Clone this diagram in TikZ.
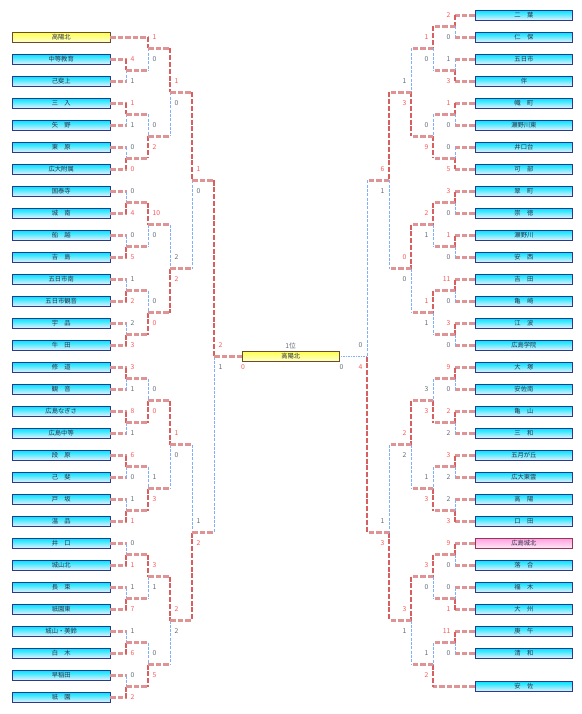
\documentclass[tikz,border=0pt]{standalone}
\usepackage{fontspec}
\newfontfamily\jp{Noto Sans CJK JP}

\definecolor{boxline}{RGB}{45,55,140}
\definecolor{boxtop}{RGB}{0,228,255}
\definecolor{boxbot}{RGB}{235,242,255}
\definecolor{winline}{RGB}{215,95,95}
\definecolor{feedline}{RGB}{222,148,148}
\definecolor{loseline}{RGB}{130,175,250}
\definecolor{winscore}{RGB}{250,90,90}
\definecolor{losescore}{RGB}{100,110,125}

\tikzset{
  team/.style={draw=boxline, line width=0.7pt, top color=boxtop, bottom color=boxbot,
    minimum width=97.5pt, minimum height=10pt, inner sep=0pt,
    text={rgb,255:red,40;green,50;blue,70}, font=\jp\fontsize{6.3}{6.3}\selectfont},
  champ/.style={team, draw={rgb,255:red,110;green,75;blue,40},
    top color={rgb,255:red,255;green,255;blue,80}, bottom color={rgb,255:red,255;green,255;blue,215}},
  seedbox/.style={team, draw={rgb,255:red,150;green,55;blue,90},
    top color={rgb,255:red,255;green,160;blue,225}, bottom color={rgb,255:red,255;green,235;blue,248}},
  feed/.style={draw=feedline, line width=2.2pt, dash pattern=on 5.5pt off 2pt},
  wv/.style={draw=winline, line width=1.4pt, dash pattern=on 5pt off 1.8pt},
  lv/.style={draw=loseline, line width=0.8pt, dash pattern=on 3pt off 1.3pt},
  ws/.style={text=winscore, inner sep=0pt, font=\jp\fontsize{6.8}{6.8}\selectfont},
  ls/.style={text=losescore, inner sep=0pt, font=\jp\fontsize{6.8}{6.8}\selectfont},
}

% 試合: 名前, x, 上y, 下y, 出口y, 上スコア, 下スコア, 上(w/l), 下(w/l)
\newcommand{\boutL}[9]{%
  \draw[#8v] (#2,#3) -- (#2,#5);
  \draw[#9v] (#2,#5) -- (#2,#4);
  \draw[feed] (#2,#5) -- ++(22,0);
  \node[#8s,anchor=west] (#1t) at (#2+4.5,#5-11) {#6};
  \node[#9s,anchor=west] (#1b) at (#2+4.5,#5+11) {#7};}
\newcommand{\boutR}[9]{%
  \draw[#8v] (#2,#3) -- (#2,#5);
  \draw[#9v] (#2,#5) -- (#2,#4);
  \draw[feed] (#2,#5) -- ++(-22,0);
  \node[#8s,anchor=east] (#1t) at (#2-4.5,#5-11) {#6};
  \node[#9s,anchor=east] (#1b) at (#2-4.5,#5+11) {#7};}

\begin{document}
\begin{tikzpicture}[x=1pt,y=-1pt]
  \useasboundingbox (0,0) rectangle (581,714);

  % 左ブロック
  \node[champ] (L1) at (61.2,37.5) {高陽北};
  \node[team] (L2) at (61.2,59.5) {中等教育};
  \node[team] (L3) at (61.2,81.5) {己斐上};
  \node[team] (L4) at (61.2,103.5) {三　入};
  \node[team] (L5) at (61.2,125.5) {矢　野};
  \node[team] (L6) at (61.2,147.5) {東　原};
  \node[team] (L7) at (61.2,169.5) {広大附属};
  \node[team] (L8) at (61.2,191.5) {国泰寺};
  \node[team] (L9) at (61.2,213.5) {城　南};
  \node[team] (L10) at (61.2,235.5) {船　越};
  \node[team] (L11) at (61.2,257.5) {吉　島};
  \node[team] (L12) at (61.2,279.5) {五日市南};
  \node[team] (L13) at (61.2,301.5) {五日市観音};
  \node[team] (L14) at (61.2,323.5) {宇　品};
  \node[team] (L15) at (61.2,345.5) {牛　田};
  \node[team] (L16) at (61.2,367.5) {修　道};
  \node[team] (L17) at (61.2,389.5) {観　音};
  \node[team] (L18) at (61.2,411.5) {広島なぎさ};
  \node[team] (L19) at (61.2,433.5) {広島中等};
  \node[team] (L20) at (61.2,455.5) {段　原};
  \node[team] (L21) at (61.2,477.5) {己　斐};
  \node[team] (L22) at (61.2,499.5) {戸　坂};
  \node[team] (L23) at (61.2,521.5) {温　品};
  \node[team] (L24) at (61.2,543.5) {井　口};
  \node[team] (L25) at (61.2,565.5) {城山北};
  \node[team] (L26) at (61.2,587.5) {長　束};
  \node[team] (L27) at (61.2,609.5) {祇園東};
  \node[team] (L28) at (61.2,631.5) {城山・美鈴};
  \node[team] (L29) at (61.2,653.5) {白　木};
  \node[team] (L30) at (61.2,675.5) {早稲田};
  \node[team] (L31) at (61.2,697.5) {祇　園};

  % 右ブロック
  \node[team] (R1) at (523.9,15.5) {二　葉};
  \node[team] (R2) at (523.9,37.5) {仁　保};
  \node[team] (R3) at (523.9,59.5) {五日市};
  \node[team] (R4) at (523.9,81.5) {伴};
  \node[team] (R5) at (523.9,103.5) {幟　町};
  \node[team] (R6) at (523.9,125.5) {瀬野川東};
  \node[team] (R7) at (523.9,147.5) {井口台};
  \node[team] (R8) at (523.9,169.5) {可　部};
  \node[team] (R9) at (523.9,191.5) {翠　町};
  \node[team] (R10) at (523.9,213.5) {崇　徳};
  \node[team] (R11) at (523.9,235.5) {瀬野川};
  \node[team] (R12) at (523.9,257.5) {安　西};
  \node[team] (R13) at (523.9,279.5) {吉　田};
  \node[team] (R14) at (523.9,301.5) {亀　崎};
  \node[team] (R15) at (523.9,323.5) {江　波};
  \node[team] (R16) at (523.9,345.5) {広島学院};
  \node[team] (R17) at (523.9,367.5) {大　塚};
  \node[team] (R18) at (523.9,389.5) {安佐南};
  \node[team] (R19) at (523.9,411.5) {亀　山};
  \node[team] (R20) at (523.9,433.5) {三　和};
  \node[team] (R21) at (523.9,455.5) {五月が丘};
  \node[team] (R22) at (523.9,477.5) {広大東雲};
  \node[team] (R23) at (523.9,499.5) {高　陽};
  \node[team] (R24) at (523.9,521.5) {口　田};
  \node[seedbox] (R25) at (523.9,543.5) {広島城北};
  \node[team] (R26) at (523.9,565.5) {落　合};
  \node[team] (R27) at (523.9,587.5) {福　木};
  \node[team] (R28) at (523.9,609.5) {大　州};
  \node[team] (R29) at (523.9,631.5) {庚　午};
  \node[team] (R30) at (523.9,653.5) {清　和};
  \node[team] (R31) at (523.9,686.5) {安　佐};

  % チームからの線
  \foreach \i in {2,...,31} \draw[feed] (L\i.east) -- ++(16.3,0);
  \draw[feed] (L1.east) -- ++(38.3,0);
  \foreach \i in {1,...,30} \draw[feed] (R\i.west) -- ++(-20.2,0);
  \draw[feed] (R31.west) -- ++(-42.2,0);

  % 左 1回戦
  \boutL{la1}{126}{59.5}{81.5}{70.5}{4}{1}{w}{l}
  \boutL{la2}{126}{103.5}{125.5}{114.5}{1}{1}{w}{l}
  \boutL{la3}{126}{147.5}{169.5}{158.5}{0}{0}{l}{w}
  \boutL{la4}{126}{191.5}{213.5}{202.5}{0}{4}{l}{w}
  \boutL{la5}{126}{235.5}{257.5}{246.5}{0}{5}{l}{w}
  \boutL{la6}{126}{279.5}{301.5}{290.5}{1}{2}{l}{w}
  \boutL{la7}{126}{323.5}{345.5}{334.5}{2}{3}{l}{w}
  \boutL{la8}{126}{367.5}{389.5}{378.5}{3}{1}{w}{l}
  \boutL{la9}{126}{411.5}{433.5}{422.5}{8}{1}{w}{l}
  \boutL{la10}{126}{455.5}{477.5}{466.5}{6}{0}{w}{l}
  \boutL{la11}{126}{499.5}{521.5}{510.5}{1}{1}{l}{w}
  \boutL{la12}{126}{543.5}{565.5}{554.5}{0}{1}{l}{w}
  \boutL{la13}{126}{587.5}{609.5}{598.5}{1}{7}{l}{w}
  \boutL{la14}{126}{631.5}{653.5}{642.5}{1}{6}{l}{w}
  \boutL{la15}{126}{675.5}{697.5}{686.5}{0}{2}{l}{w}

  % 左 2回戦
  \boutL{lb1}{148}{37.5}{70.5}{48.5}{1}{0}{w}{l}
  \boutL{lb2}{148}{114.5}{158.5}{136.5}{0}{2}{l}{w}
  \boutL{lb3}{148}{202.5}{246.5}{224.5}{10}{0}{w}{l}
  \boutL{lb4}{148}{290.5}{334.5}{312.5}{0}{0}{l}{w}
  \boutL{lb5}{148}{378.5}{422.5}{400.5}{0}{0}{l}{w}
  \boutL{lb6}{148}{466.5}{510.5}{488.5}{1}{3}{l}{w}
  \boutL{lb7}{148}{554.5}{598.5}{576.5}{3}{1}{w}{l}
  \boutL{lb8}{148}{642.5}{686.5}{664.5}{0}{5}{l}{w}

  % 左 3回戦・準々決勝
  \boutL{lc1}{170}{48.5}{136.5}{92.5}{1}{0}{w}{l}
  \boutL{lc2}{170}{224.5}{312.5}{268.5}{2}{2}{l}{w}
  \boutL{lc3}{170}{400.5}{488.5}{444.5}{1}{0}{w}{l}
  \boutL{lc4}{170}{576.5}{664.5}{620.5}{2}{2}{w}{l}
  \boutL{ld1}{192}{92.5}{268.5}{180.5}{1}{0}{w}{l}
  \boutL{ld2}{192}{444.5}{620.5}{532.5}{1}{2}{l}{w}

  % 右 1回戦
  \boutR{ra1}{455}{15.5}{37.5}{26.5}{2}{0}{w}{l}
  \boutR{ra2}{455}{59.5}{81.5}{70.5}{1}{3}{l}{w}
  \boutR{ra3}{455}{103.5}{125.5}{114.5}{1}{0}{w}{l}
  \boutR{ra4}{455}{147.5}{169.5}{158.5}{0}{5}{l}{w}
  \boutR{ra5}{455}{191.5}{213.5}{202.5}{3}{0}{w}{l}
  \boutR{ra6}{455}{235.5}{257.5}{246.5}{1}{0}{w}{l}
  \boutR{ra7}{455}{279.5}{301.5}{290.5}{11}{0}{w}{l}
  \boutR{ra8}{455}{323.5}{345.5}{334.5}{3}{0}{w}{l}
  \boutR{ra9}{455}{367.5}{389.5}{378.5}{9}{0}{w}{l}
  \boutR{ra10}{455}{411.5}{433.5}{422.5}{2}{2}{w}{l}
  \boutR{ra11}{455}{455.5}{477.5}{466.5}{3}{2}{w}{l}
  \boutR{ra12}{455}{499.5}{521.5}{510.5}{2}{3}{l}{w}
  \boutR{ra13}{455}{543.5}{565.5}{554.5}{9}{0}{w}{l}
  \boutR{ra14}{455}{587.5}{609.5}{598.5}{0}{1}{l}{w}
  \boutR{ra15}{455}{631.5}{653.5}{642.5}{11}{0}{w}{l}

  % 右 2回戦
  \boutR{rb1}{433}{26.5}{70.5}{48.5}{1}{0}{w}{l}
  \boutR{rb2}{433}{114.5}{158.5}{136.5}{0}{9}{l}{w}
  \boutR{rb3}{433}{202.5}{246.5}{224.5}{2}{1}{w}{l}
  \boutR{rb4}{433}{290.5}{334.5}{312.5}{1}{1}{w}{l}
  \boutR{rb5}{433}{378.5}{422.5}{400.5}{3}{3}{l}{w}
  \boutR{rb6}{433}{466.5}{510.5}{488.5}{1}{3}{l}{w}
  \boutR{rb7}{433}{554.5}{598.5}{576.5}{3}{0}{w}{l}
  \boutR{rb8}{433}{642.5}{686.5}{664.5}{1}{2}{l}{w}

  % 右 3回戦・準々決勝
  \boutR{rc1}{411}{48.5}{136.5}{92.5}{1}{3}{l}{w}
  \boutR{rc2}{411}{224.5}{312.5}{268.5}{0}{0}{w}{l}
  \boutR{rc3}{411}{400.5}{488.5}{444.5}{2}{2}{w}{l}
  \boutR{rc4}{411}{576.5}{664.5}{620.5}{3}{1}{w}{l}
  \boutR{rd1}{389}{92.5}{268.5}{180.5}{6}{1}{w}{l}
  \boutR{rd2}{389}{444.5}{620.5}{532.5}{1}{3}{l}{w}

  % 決勝
  \node[champ] (F) at (290.7,356.5) {高陽北};
  \node[ls] (Frank) at (290.7,345.5) {1位};
  \node[ws,anchor=west] (Fl) at (241,367.5) {0};
  \node[ls,anchor=west] (Fr) at (339.5,367.5) {0};

  \draw[wv] (214,180.5) -- (214,356.5);
  \draw[lv] (214,356.5) -- (214,532.5);
  \draw[feed] (214,356.5) -- (F.west);
  \node[ws,anchor=west] (le1t) at (218.5,345.5) {2};
  \node[ls,anchor=west] (le1b) at (218.5,367.5) {1};

  \draw[lv] (367,180.5) -- (367,356.5);
  \draw[wv] (367,356.5) -- (367,532.5);
  \draw[loseline, line width=1.2pt, dash pattern=on 1.5pt off 1pt] (367,356.5) -- (F.east);
  \node[ls,anchor=east] (re1t) at (362.5,345.5) {0};
  \node[ws,anchor=east] (re1b) at (362.5,367.5) {4};
\end{tikzpicture}
\end{document}
